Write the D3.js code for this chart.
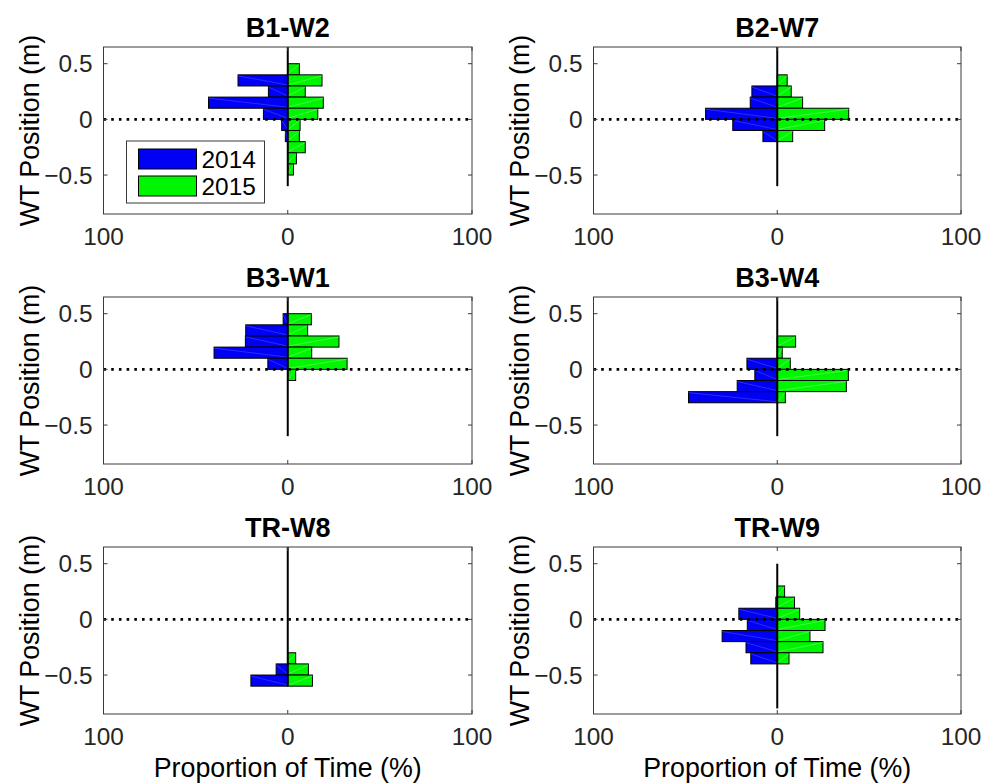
<!DOCTYPE html>
<html><head><meta charset="utf-8">
<script src="https://cdn.jsdelivr.net/npm/d3@7/dist/d3.min.js"></script>
<style>body{margin:0;background:#fff}svg{display:block}text{font-family:"Liberation Sans",Helvetica,Arial,sans-serif}</style>
</head><body><svg id="c" width="986" height="784"></svg>
<script>
// ---- data ----
const panelNames = ["B1-W2","B2-W7","B3-W1","B3-W4","TR-W8","TR-W9"];
const seriesNames = ["2014","2015"];
// lower edges of the 0.1 m bins, from top to bottom
const binLower = [0.4,0.3,0.2,0.1,0,-0.1,-0.2,-0.3,-0.4,-0.5,-0.6];
const binWidth = 0.1;
const v2014 = [
  [0,27,10.5,43,13.2,3.3,1.3,0,0,0,0],
  [0,0,13.8,14.7,39,24.2,7.8,0,0,0,0],
  [2.5,22.8,23,40,10.8,0,0,0,0,0,0],
  [0,0,0,0,16.5,12.2,21.8,48.3,0,0,0],
  [0,0,0,0,0,0,0,0,0,6.3,20],
  [0,0,0,0.8,20.9,16.3,30,17,14.4,0,0]
];
const v2015 = [
  [6.3,18.6,9.5,19.3,16.3,6.7,6.3,9.5,4.7,3.1,0],
  [0,5.4,7.6,13.8,38.9,25.8,8.4,0,0,0,0],
  [12.8,10.8,27.8,13,32.2,4.3,0,0,0,0,0],
  [0,0,10,2.7,7.1,38.7,37.6,4.4,0,0,0],
  [0,0,0,0,0,0,0,0,4.3,11.2,13.4],
  [0,0,4,9.4,12.2,26,17.8,24.9,6.4,0,0]
];
const centerLineTop = [0.65,0.65,0.65,0.65,0.65,0.5];
const centerLineBottom = [-0.6,-0.6,-0.6,-0.6,-0.6,-0.8];
const xTicks = [-100,0,100];
const yTicks = [-0.5,0,0.5];
const xDomain = [-100,100];
const yDomain = [-0.85,0.65];
const xLabel = "Proportion of Time (%)";
const yLabel = "WT Position (m)";

// ---- layout ----
const colX = [[103.5,472],[593.5,961]];
const rowTop = [47,297,547];
const boxH = 167;
const axisColor = "#3a3a3a", textColor = "#262626";
const blue = "#0000f5", green = "#00f500";
const svg = d3.select("#c");

panelNames.forEach((name,i)=>{
  const col = i%2, row = Math.floor(i/2);
  const x = d3.scaleLinear().domain(xDomain).range(colX[col]);
  const y = d3.scaleLinear().domain(yDomain).range([rowTop[row]+boxH,rowTop[row]]);
  const g = svg.append("g");
  const x0 = x.range()[0], x1 = x.range()[1], y0 = y.range()[1], y1 = y.range()[0];

  // bars
  const bars = [];
  binLower.forEach((b,k)=>{
    if (v2014[i][k]>0) bars.push({lo:b, v:-v2014[i][k], c:blue, hi:"#5a5aff"});
    if (v2015[i][k]>0) bars.push({lo:b, v:v2015[i][k], c:green, hi:"#8aff8a"});
  });
  const bg = g.append("g");
  bars.forEach(d=>{
    const xa = x(Math.min(0,d.v)), xb = x(Math.max(0,d.v));
    const ya = y(d.lo+binWidth), yb = y(d.lo);
    bg.append("rect").attr("x",xa).attr("y",ya).attr("width",xb-xa).attr("height",yb-ya)
      .attr("fill",d.c).attr("stroke","#000").attr("stroke-width",1);
    // faint triangulation seam
    const outer = x(d.v), inner = x(0);
    bg.append("line").attr("x1",outer).attr("y1",ya+1).attr("x2",inner).attr("y2",yb-1)
      .attr("stroke",d.hi).attr("stroke-width",0.6).attr("opacity",0.8);
  });

  // zero dotted line
  g.append("line").attr("x1",x0).attr("x2",x1).attr("y1",y(0)).attr("y2",y(0))
    .attr("stroke","#000").attr("stroke-width",2.6).attr("stroke-dasharray","2.6,5.1");
  // center line
  g.append("line").attr("x1",x(0)).attr("x2",x(0))
    .attr("y1",y(Math.min(centerLineTop[i],yDomain[1]))).attr("y2",y(centerLineBottom[i]))
    .attr("stroke","#000").attr("stroke-width",2);

  // box
  g.append("rect").attr("x",x0).attr("y",y0).attr("width",x1-x0).attr("height",y1-y0)
    .attr("fill","none").attr("stroke",axisColor).attr("stroke-width",1);
  // ticks (inward)
  const tl = 4;
  xTicks.forEach(t=>{
    g.append("line").attr("x1",x(t)).attr("x2",x(t)).attr("y1",y1).attr("y2",y1-tl).attr("stroke",axisColor);
    g.append("line").attr("x1",x(t)).attr("x2",x(t)).attr("y1",y0).attr("y2",y0+tl).attr("stroke",axisColor);
    g.append("text").attr("x",x(t)).attr("y",y1+31).attr("text-anchor","middle")
      .attr("font-size",24.4).attr("fill",textColor).text(Math.abs(t));
  });
  yTicks.forEach(t=>{
    g.append("line").attr("x1",x0).attr("x2",x0+tl).attr("y1",y(t)).attr("y2",y(t)).attr("stroke",axisColor);
    g.append("line").attr("x1",x1).attr("x2",x1-tl).attr("y1",y(t)).attr("y2",y(t)).attr("stroke",axisColor);
    g.append("text").attr("x",x0-11).attr("y",y(t)).attr("dy","0.35em").attr("text-anchor","end")
      .attr("font-size",24.4).attr("fill",textColor).text(t===0?"0":d3.format("")(t));
  });

  // title
  g.append("text").attr("x",(x0+x1)/2).attr("y",y0-10).attr("text-anchor","middle")
    .attr("font-size",27).attr("font-weight","bold").attr("fill","#000").text(name);
  // y label
  g.append("text").attr("transform",`translate(${x0-65},${(y0+y1)/2}) rotate(-90)`)
    .attr("text-anchor","middle").attr("font-size",26.8).attr("fill","#000").text(yLabel);
  // x label on bottom row
  if (row===2) {
    g.append("text").attr("x",(x0+x1)/2).attr("y",y1+63).attr("text-anchor","middle")
      .attr("font-size",26.8).attr("fill","#000").text(xLabel);
  }

  // legend in first panel
  if (i===0) {
    const lx = x0+23, ly = y0+94;
    const lg = g.append("g");
    lg.append("rect").attr("x",lx).attr("y",ly).attr("width",138).attr("height",62)
      .attr("fill","#fff").attr("stroke",axisColor).attr("stroke-width",1);
    [blue,green].forEach((c,k)=>{
      lg.append("rect").attr("x",lx+12).attr("y",ly+8+k*27).attr("width",58).attr("height",20)
        .attr("fill",c).attr("stroke","#000").attr("stroke-width",1);
      lg.append("text").attr("x",lx+75).attr("y",ly+18+k*27).attr("dy","0.36em")
        .attr("font-size",24.4).attr("fill","#000").text(seriesNames[k]);
    });
  }
});
</script></body></html>
